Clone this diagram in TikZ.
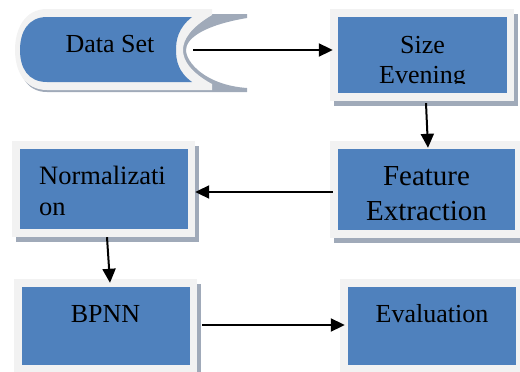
\documentclass[tikz,border=0pt]{standalone}
\usepackage{fontspec}
\setmainfont{Liberation Serif}
\usetikzlibrary{arrows.meta,calc}
\definecolor{boxblue}{HTML}{4F81BD}
\definecolor{framegray}{HTML}{F2F2F2}
\definecolor{shadowgray}{HTML}{A0AAB9}
\pgfdeclarelayer{bg}
\pgfsetlayers{bg,main}
\newcommand\boxbackdrop[1]{%
  \begin{pgfonlayer}{bg}
    \fill[shadowgray] ($(#1.north west)+(-4,-3)$) rectangle ($(#1.south east)+(11,13)$);
    \fill[framegray] ($(#1.north west)+(-8,-8)$) rectangle ($(#1.south east)+(7,8)$);
  \end{pgfonlayer}}
\begin{document}
\begin{tikzpicture}[x=1pt,y=-1pt,
  blue box/.style={fill=boxblue, draw=none, inner sep=0pt},
  label26/.style={inner sep=0pt, font=\fontsize{26}{30}\selectfont, align=center},
  conn/.style={-{Triangle[length=14pt,width=13pt]}, line width=2pt}]
\useasboundingbox (0,0) rectangle (520,372);

% ---- Data Set shape ----
\fill[shadowgray] (47,14) -- (247,14) -- (247,18)
  .. controls (205,25) and (186,38) .. (186,50)
  .. controls (186,62) and (205,85) .. (247,88)
  -- (247,92) -- (47,92)
  .. controls (25,92) and (18,72) .. (18,53)
  .. controls (18,32) and (25,14) .. (47,14) -- cycle;
\fill[framegray] (47,9) -- (212,9) -- (212,15)
  .. controls (190,28) and (183,40) .. (183,50)
  .. controls (183,60) and (190,72) .. (212,84)
  -- (212,90) -- (47,90)
  .. controls (24,90) and (15,70) .. (15,50)
  .. controls (15,30) and (24,9) .. (47,9) -- cycle;
\fill[boxblue] (47,17) -- (192,17)
  .. controls (178,28) and (176,40) .. (176,50)
  .. controls (176,60) and (178,72) .. (192,82)
  -- (47,82)
  .. controls (28,82) and (20,68) .. (20,50)
  .. controls (20,32) and (28,17) .. (47,17) -- cycle;
\node[label26, anchor=base] (ds) at (110,52) {Data Set};
\coordinate (dsE) at (193,50);

% ---- boxes ----
\node[blue box, minimum width=169pt, minimum height=76pt] (se) at (422.5,55) {};
\node[blue box, minimum width=177pt, minimum height=81pt] (fe) at (426.5,189.5) {};
\node[blue box, minimum width=168pt, minimum height=80pt] (no) at (104,189) {};
\node[blue box, minimum width=168pt, minimum height=78pt] (bp) at (106,326) {};
\node[blue box, minimum width=168pt, minimum height=78pt] (ev) at (432,326) {};
\boxbackdrop{se}
\boxbackdrop{fe}
\boxbackdrop{no}
\boxbackdrop{bp}
\boxbackdrop{ev}

% ---- texts ----
\begin{scope}
  \clip (338,17) rectangle (507,83);
  \node[label26, anchor=north] (seT) at (422.5,33) {\rule{0pt}{20pt}Size\\Evening};
\end{scope}
\node[inner sep=0pt, font=\fontsize{29}{35}\selectfont, align=center, anchor=north] (feT)
  at (426.5,163) {\rule{0pt}{22pt}Feature\\Extraction};
\node[inner sep=0pt, font=\fontsize{26.5}{31}\selectfont, align=left, anchor=north west] (noT)
  at (39,164) {\rule{0pt}{20pt}Normalizati\\on};
\node[label26, anchor=base] (bpT) at (105.5,322) {BPNN};
\node[label26, anchor=base] (evT) at (432,322) {Evaluation};

% ---- connectors ----
\draw[conn] (dsE) -- (dsE -| {$(se.west)+(-5,0)$});
\draw[conn] ($(se.south)+(3.5,10)$) -- ($(fe.north)+(1.5,-1)$);
\draw[conn] ($(fe.west)+(-5,2.5)$) -- ($(no.east)+(7,3)$);
\draw[conn] ($(no.south)+(3,8)$) -- ($(bp.north)+(4,-4)$);
\draw[conn] ($(bp.east)+(12,-1)$) -- ($(ev.west)+(-3,-1)$);
\end{tikzpicture}
\end{document}
